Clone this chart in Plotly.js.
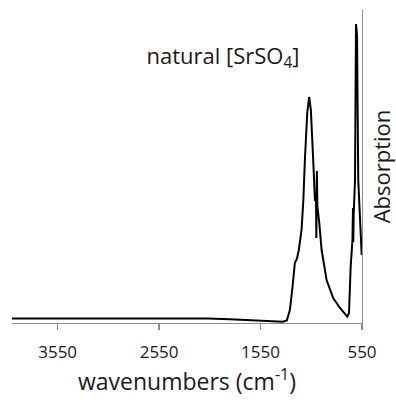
<!DOCTYPE html>
<html><head><meta charset="utf-8">
<script src="https://cdn.plot.ly/plotly-3.0.1.min.js"></script>
<style>html,body{margin:0;padding:0;background:#fff}#chart{width:396px;height:405px}</style>
</head><body><div id="chart"></div>
<script>
const wavenumbers = [4000, 3732, 3534, 3139, 2645, 2348, 2151, 2101, 2072, 1854, 1657, 1459, 1331, 1291, 1261, 1235, 1212, 1192, 1173, 1146, 1128, 1113, 1090, 1071, 1054, 1031, 1014, 1003, 1000, 995, 990, 972, 948, 899, 834, 767, 718, 695, 678, 662, 644, 639, 636, 632, 619, 609, 599, 587, 553];
const absorption  = [4.5, 4.5, 5.0, 4.7, 4.7, 4.3, 4.5, 5.0, 4.5, 3.7, 2.7, 1.7, 1.3, 2.5, 13, 36, 60, 64, 73, 93, 123, 163, 210, 226, 213, 163, 123, 123, 85, 152, 117, 101, 73, 43, 25, 15, 9, 6.3, 10, 56, 83, 115, 81, 108, 143, 299, 288, 143, 68];
const xTicks = [550, 1550, 2550, 3550];
const chartTitle = 'natural [SrSO<sub>4</sub>]';
const xTitle = 'wavenumbers (cm<sup>-1</sup>)';
const yTitle = 'Absorption';

const font = '"Open Sans", "Noto Sans", sans-serif';
Plotly.newPlot('chart', [{
  x: wavenumbers, y: absorption, type: 'scatter', mode: 'lines',
  line: {color: '#000', width: 2}, hoverinfo: 'skip'
}], {
  width: 396, height: 405,
  margin: {l: 12, r: 34, t: 10, b: 82},
  paper_bgcolor: '#fff', plot_bgcolor: '#fff',
  showlegend: false,
  font: {family: font, color: '#1a1a1a'},
  title: {text: chartTitle, font: {size: 22, family: font, color: '#1a1a1a'},
          x: 223/396, xanchor: 'center', xref: 'container', y: 1 - 56/405, yanchor: 'middle'},
  xaxis: {
    range: [4000, 550], tickvals: xTicks, ticktext: xTicks.map(String),
    showgrid: false, zeroline: false, showline: true, linecolor: '#8c8c8c', linewidth: 1.3,
    ticks: 'outside', ticklen: 6, tickcolor: '#8c8c8c', tickwidth: 1.3,
    ticklabelstandoff: 7,
    tickfont: {size: 17, color: '#1a1a1a'},
    title: {text: xTitle, font: {size: 23, color: '#1a1a1a'}, standoff: 12}
  },
  yaxis: {
    range: [0, 313], side: 'right', showticklabels: false, ticks: '',
    showgrid: false, zeroline: false, showline: true, linecolor: '#8c8c8c', linewidth: 1.3,
    title: {text: yTitle, font: {size: 22, color: '#1a1a1a'}}
  }
}, {staticPlot: true});
</script></body></html>
